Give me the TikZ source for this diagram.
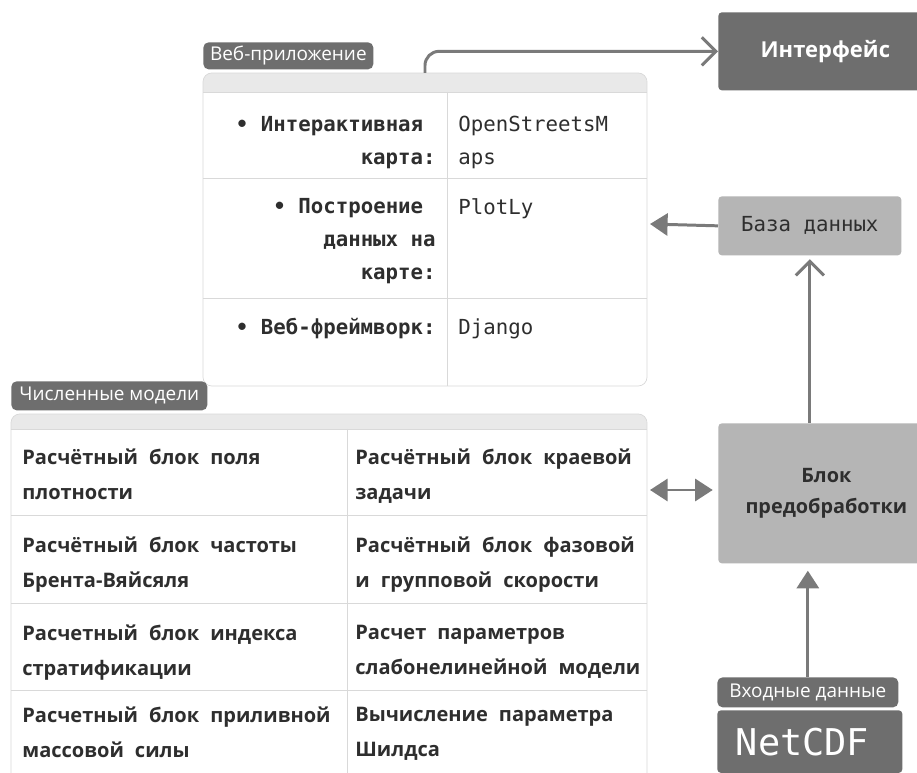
\documentclass[tikz,border=0pt]{standalone}
\usepackage{fontspec}
\setmainfont{Open Sans}
\newfontfamily\monofam{DejaVu Sans Mono}
\usetikzlibrary{arrows.meta}
\definecolor{tagdark}{HTML}{6E6E6E}
\definecolor{boxlight}{HTML}{B5B5B5}
\definecolor{rulegray}{HTML}{D9D9D9}
\definecolor{stripgray}{HTML}{E9E9E9}
\definecolor{ink}{HTML}{2E2E2E}
\definecolor{linkgray}{HTML}{7A7A7A}
\newcommand\numboldfont{\bfseries\fontsize{11.4}{19.8}\selectfont\spaceskip=0.55em\relax}
\begin{document}
\begin{tikzpicture}[x=0.02cm,y=-0.02cm,
  tag/.style={fill=tagdark,rounded corners=3pt,text=white,inner sep=0pt,anchor=north west,
    font=\fontsize{10.8}{12}\selectfont},
  darkbox/.style={fill=tagdark,rounded corners=2pt,text=white,inner sep=0pt,anchor=north west},
  lightbox/.style={fill=boxlight,rounded corners=2pt,text=ink,inner sep=0pt,anchor=north west},
  webcell/.style={anchor=north east,inner sep=0pt,align=right,text=ink,
    font=\monofam\bfseries\fontsize{11.8}{18.7}\selectfont},
  webval/.style={anchor=north west,inner sep=0pt,align=left,text=ink,
    font=\monofam\fontsize{11.8}{18.7}\selectfont},
  numcell/.style={anchor=north west,inner sep=0pt,align=left,text=ink,font=\numboldfont},
  link/.style={draw=linkgray,line width=1.7pt},
  openhead/.style={-{Straight Barb[length=8pt,width=16pt]}},
  fullhead/.style={-{Triangle[length=10pt,width=12.5pt]}},
  twohead/.style={{Triangle[length=10pt,width=12.5pt]}-{Triangle[length=10pt,width=12.5pt]}}]
\clip (0,0) rectangle (917,773);
\fill[white] (0,0) rectangle (917,773);

% web application table
\fill[white,rounded corners=5pt] (203,73) rectangle (647,386);
\begin{scope}
  \clip[rounded corners=5pt] (203,73) rectangle (647,386);
  \fill[stripgray] (203,73) rectangle (647,92);
\end{scope}
\draw[rulegray] (203,92) -- (647,92) (203,178) -- (647,178) (203,298) -- (647,298);
\draw[rulegray] (447,92) -- (447,386);
\draw[rulegray,rounded corners=5pt] (203,73) rectangle (647,386);
\coordinate (webtop) at (425,73);
\coordinate (webright) at (650,224);

\node[tag,minimum width=3.4cm,minimum height=0.54cm] (webtag) at (203,42) {Веб-приложение};
\node[webcell] (map) at (436,116) {• Интерактивная\hspace*{0.6em}\\карта:};
\node[webval] (osm) at (458,116) {OpenStreetsM\\aps};
\node[webcell] (plot) at (436,198) {• Построение\hspace*{0.6em}\\данных на\hspace*{0.6em}\\карте:};
\node[webval] (plotly) at (458,198) {PlotLy};
\node[webcell] (fw) at (436,318) {• Веб-фреймворк:};
\node[webval] (django) at (458,318) {Django};

% numerical models table
\fill[white,rounded corners=5pt] (11,414) rectangle (647,800);
\begin{scope}
  \clip[rounded corners=5pt] (11,414) rectangle (647,800);
  \fill[stripgray] (11,414) rectangle (647,429);
\end{scope}
\draw[rulegray] (11,429) -- (647,429) (11,515) -- (647,515) (11,603) -- (647,603) (11,690) -- (647,690);
\draw[rulegray] (347,429) -- (347,800);
\draw[rulegray,rounded corners=5pt] (11,414) rectangle (647,800);
\coordinate (numright) at (650,490);

\node[tag,minimum width=3.92cm,minimum height=0.58cm] (numtag) at (11,381) {Численные модели};
\node[numcell] (dens) at (22,449) {Расчётный блок поля\\плотности};
\node[numcell] (edge) at (355,449) {Расчётный блок краевой\\задачи};
\node[numcell] (freq) at (22,537) {Расчётный блок частоты\\Брента-Вяйсяля};
\node[numcell] (phase) at (355,537) {Расчётный блок фазовой\\и групповой скорости};
\node[numcell] (strat) at (22,625) {Расчетный блок индекса\\стратификации};
\node[numcell] (weak) at (355,625) {Расчет параметров\\слабонелинейной модели};
\node[numcell] (tide) at (22,707) {Расчетный блок приливной\\массовой силы};
\node[numcell] (shields) at (355,707) {Вычисление параметра\\Шилдса};

% right column
\node[darkbox,minimum width=4.28cm,minimum height=1.56cm,font=\bfseries\fontsize{12.5}{14}\selectfont] (iface) at (718,12) {Интерфейс};
\node[lightbox,minimum width=3.66cm,minimum height=1.18cm,font=\monofam\fontsize{11.8}{14}\selectfont] (db) at (718,196) {База данных};
\node[lightbox,minimum width=4.32cm,minimum height=2.8cm,align=center,font=\bfseries\fontsize{11.3}{18}\selectfont] (prep) at (718,423) {Блок\\предобработки};
\node[tag,minimum width=3.62cm,minimum height=0.6cm] (intag) at (717,677) {Входные данные};
\node[darkbox,minimum width=3.7cm,minimum height=1.25cm,font=\monofam\fontsize{21}{22}\selectfont] (netcdf) at (717,710) {NetCDF\hspace*{0.4em}};

% connectors
\draw[link,openhead,rounded corners=8pt] (webtop) |- (iface.west);
\draw[link,fullhead] (db.west) -- (webright);
\draw[link,openhead,shorten >=2pt] (prep.north -| db.south) -- (db.south);
\draw[link,twohead,shorten >=3pt] (numright) -- (prep.west |- numright);
\draw[link,fullhead,shorten >=4pt] (intag.north) -- (prep.south -| intag.north);
\end{tikzpicture}
\end{document}
